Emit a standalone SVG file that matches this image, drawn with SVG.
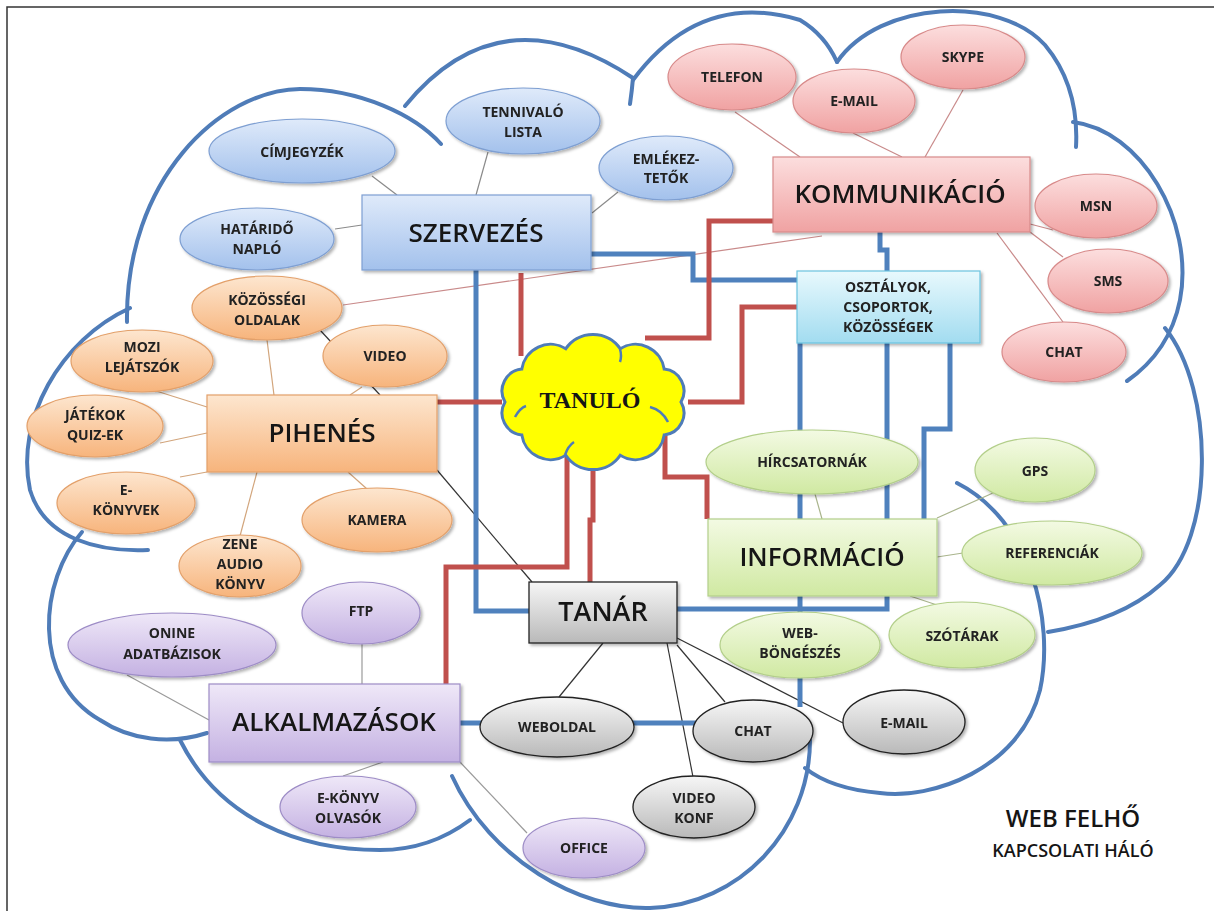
<svg xmlns="http://www.w3.org/2000/svg" width="1214" height="911" viewBox="0 0 1214 911">
<defs>
<linearGradient id="gBlue" x1="0" y1="0" x2="0" y2="1"><stop offset="0" stop-color="#dfeafa"/><stop offset="1" stop-color="#a3c1ec"/></linearGradient>
<linearGradient id="gPink" x1="0" y1="0" x2="0" y2="1"><stop offset="0" stop-color="#fcdede"/><stop offset="1" stop-color="#f0a2a2"/></linearGradient>
<linearGradient id="gOrange" x1="0" y1="0" x2="0" y2="1"><stop offset="0" stop-color="#fde6cf"/><stop offset="1" stop-color="#f7b47c"/></linearGradient>
<linearGradient id="gCyan" x1="0" y1="0" x2="0" y2="1"><stop offset="0" stop-color="#e8f9fd"/><stop offset="1" stop-color="#a2dcf0"/></linearGradient>
<linearGradient id="gGreen" x1="0" y1="0" x2="0" y2="1"><stop offset="0" stop-color="#f3fae3"/><stop offset="1" stop-color="#d0e9a2"/></linearGradient>
<linearGradient id="gGray" x1="0" y1="0" x2="0" y2="1"><stop offset="0" stop-color="#f6f6f6"/><stop offset="1" stop-color="#b9b9b9"/></linearGradient>
<linearGradient id="gPurple" x1="0" y1="0" x2="0" y2="1"><stop offset="0" stop-color="#efe8f8"/><stop offset="1" stop-color="#c4b1e2"/></linearGradient>
<filter id="sh" x="-10%" y="-10%" width="130%" height="140%"><feDropShadow dx="2" dy="2" stdDeviation="1.8" flood-color="#000" flood-opacity="0.3"/></filter>
</defs>
<style>
.arc{fill:none;stroke:#4f7cb8;stroke-width:4;stroke-linecap:round}
.thin{fill:none;stroke-width:1.2}
.tb{stroke:#8a8a8a}.tp{stroke:#c98a8a}.to{stroke:#d2a57c}.tg{stroke:#a9b48c}.tk{stroke:#333}.tu{stroke:#9a9a9a}
.red{fill:none;stroke:#c0504d;stroke-width:5}
.blue{fill:none;stroke:#4f81bd;stroke-width:5}
.n{filter:url(#sh)}
.blueN{fill:url(#gBlue);stroke:#7e9fd2;stroke-width:1.2}
.pinkN{fill:url(#gPink);stroke:#d88a8a;stroke-width:1.2}
.orN{fill:url(#gOrange);stroke:#e3a06a;stroke-width:1.2}
.cyN{fill:url(#gCyan);stroke:#6cc3df;stroke-width:1.2}
.grN{fill:url(#gGreen);stroke:#b3cf8a;stroke-width:1.2}
.gyN{fill:url(#gGray);stroke:#222;stroke-width:1.3}
.puN{fill:url(#gPurple);stroke:#9d8cc6;stroke-width:1.2}
text{font-family:"Open Sans","Liberation Sans",sans-serif;font-weight:600;fill:#151515;text-anchor:middle}
.big{font-size:26px}
.sm{font-size:14px;font-weight:700;fill:#222}
.tan{font-family:"Liberation Serif",serif;font-weight:bold;font-size:24px}
.curl{fill:none;stroke:#4f7cb8;stroke-width:2.5}
</style>
<rect width="1214" height="911" fill="#fff"/>
<path d="M7,911 V7 H1214" fill="none" stroke="#333" stroke-width="1.5"/>

<g id="cloud-outline">
<path class="arc" d="M127,322 C125,180 220,90 300,89 C360,89 415,115 441,144"/>
<path class="arc" d="M405,106 Q500,-10 633,78 Q632,90 630,104"/>
<path class="arc" d="M633,80 Q700,-10 800,20 Q825,35 837,62"/>
<path class="arc" d="M837,62 C880,0 1000,-5 1045,45 C1070,75 1078,110 1076,147"/>
<path class="arc" d="M1073,122 C1140,130 1195,220 1180,300 C1172,340 1150,365 1127,381"/>
<path class="arc" d="M1165,328 C1215,390 1215,540 1160,585 C1130,612 1090,625 1048,632"/>
<path class="arc" d="M957,483 C1030,520 1055,620 1040,690 C1020,770 930,800 880,793 C845,790 820,780 805,768"/>
<path class="arc" d="M452,776 C490,860 580,910 650,908 C740,905 810,830 810,740"/>
<path class="arc" d="M180,740 C220,820 300,850 380,850 C420,850 450,835 470,820"/>
<path class="arc" d="M82,532 C40,580 30,680 100,720 C130,740 170,745 207,733"/>
<path class="arc" d="M130,308 C60,340 15,420 30,490 C45,540 100,552 148,550"/>
</g>

<g id="connectors">
<line class="thin tb" x1="372" y1="176" x2="397" y2="195"/>
<line class="thin tb" x1="335" y1="229" x2="362" y2="225"/>
<line class="thin tb" x1="488" y1="152" x2="476" y2="195"/>
<line class="thin tb" x1="618" y1="192" x2="592" y2="213"/>
<line class="thin tp" x1="735" y1="112" x2="800" y2="157"/>
<line class="thin tp" x1="853" y1="133" x2="902" y2="157"/>
<line class="thin tp" x1="963" y1="90" x2="925" y2="157"/>
<line class="thin tp" x1="1030" y1="224" x2="1053" y2="230"/>
<line class="thin tp" x1="1030" y1="232" x2="1063" y2="257"/>
<line class="thin tp" x1="997" y1="233" x2="1063" y2="322"/>
<line class="thin tp" x1="343" y1="305" x2="822" y2="236"/>
<line class="thin tk" x1="320" y1="330" x2="380" y2="395"/>
<line class="thin to" x1="267" y1="340" x2="274" y2="395"/>
<line class="thin to" x1="362" y1="387" x2="350" y2="395"/>
<line class="thin to" x1="153" y1="390" x2="207" y2="407"/>
<line class="thin to" x1="160" y1="443" x2="207" y2="433"/>
<line class="thin to" x1="180" y1="477" x2="207" y2="472"/>
<line class="thin to" x1="240" y1="536" x2="257" y2="472"/>
<line class="thin to" x1="367" y1="489" x2="348" y2="472"/>
<line class="thin tk" x1="437" y1="470" x2="532" y2="582"/>
<line class="thin tg" x1="815" y1="494" x2="822" y2="519"/>
<line class="thin tg" x1="937" y1="518" x2="993" y2="493"/>
<line class="thin tg" x1="937" y1="557" x2="963" y2="553"/>
<line class="thin tg" x1="910" y1="596" x2="937" y2="605"/>
<line class="thin tk" x1="603" y1="643" x2="559" y2="697"/>
<line class="thin tk" x1="667" y1="643" x2="693" y2="777"/>
<line class="thin tk" x1="677" y1="645" x2="725" y2="702"/>
<line class="thin tk" x1="677" y1="638" x2="843" y2="723"/>
<line class="thin tu" x1="362" y1="643" x2="362" y2="684"/>
<line class="thin tu" x1="127" y1="675" x2="209" y2="720"/>
<line class="thin tu" x1="343" y1="776" x2="383" y2="762"/>
<line class="thin tu" x1="460" y1="762" x2="527" y2="833"/>
<path class="blue" d="M476,270 V611 H530"/>
<path class="blue" d="M591,254 H693 V280 H797"/>
<path class="blue" d="M880,232 V250 H887 V271"/>
<path class="blue" d="M800,343 V707"/>
<path class="blue" d="M887,343 V609 H677"/>
<path class="blue" d="M950,343 V429 H924 V519"/>
<path class="blue" d="M460,723 H697"/>
<path class="red" d="M437,402 H502"/>
<path class="red" d="M521,273 V356"/>
<path class="red" d="M773,221 H709 V338 H645"/>
<path class="red" d="M797,307 H742 V402 H688"/>
<path class="red" d="M665,430 V477 H707 V519"/>
<path class="red" d="M593,466 V520 H590 V583"/>
<path class="red" d="M567,455 V567 H446 V684"/>
</g>

<g id="szervezes" class="n"><rect class="blueN" x="362" y="195" width="229" height="75"/><text class="big" x="476" y="242">SZERVEZÉS</text></g>
<g id="cimjegyzek" class="n"><ellipse class="blueN" cx="302" cy="151" rx="93" ry="32"/><text class="sm" x="302" y="157">CÍMJEGYZÉK</text></g>
<g id="hatarido" class="n"><ellipse class="blueN" cx="257" cy="239" rx="77" ry="31"/><text class="sm" x="257" y="234">HATÁRIDŐ</text><text class="sm" x="257" y="254">NAPLÓ</text></g>
<g id="tennivalo" class="n"><ellipse class="blueN" cx="523" cy="121" rx="77" ry="33"/><text class="sm" x="523" y="117">TENNIVALÓ</text><text class="sm" x="523" y="137">LISTA</text></g>
<g id="emlekezteto" class="n"><ellipse class="blueN" cx="666" cy="168" rx="67" ry="32"/><text class="sm" x="666" y="164">EMLÉKEZ-</text><text class="sm" x="666" y="183">TETŐK</text></g>

<g id="kommunikacio" class="n"><rect class="pinkN" x="773" y="157" width="257" height="75"/><text class="big" x="900" y="203">KOMMUNIKÁCIÓ</text></g>
<g id="telefon" class="n"><ellipse class="pinkN" cx="732" cy="77" rx="64" ry="33"/><text class="sm" x="732" y="82">TELEFON</text></g>
<g id="email1" class="n"><ellipse class="pinkN" cx="854" cy="101" rx="61" ry="32"/><text class="sm" x="854" y="106">E-MAIL</text></g>
<g id="skype" class="n"><ellipse class="pinkN" cx="963" cy="57" rx="62" ry="32"/><text class="sm" x="963" y="62">SKYPE</text></g>
<g id="msn" class="n"><ellipse class="pinkN" cx="1096" cy="206" rx="61" ry="32"/><text class="sm" x="1096" y="211">MSN</text></g>
<g id="sms" class="n"><ellipse class="pinkN" cx="1108" cy="281" rx="60" ry="32"/><text class="sm" x="1108" y="286">SMS</text></g>
<g id="chat1" class="n"><ellipse class="pinkN" cx="1064" cy="352" rx="62" ry="30"/><text class="sm" x="1064" y="357">CHAT</text></g>

<g id="osztalyok" class="n"><rect class="cyN" x="797" y="271" width="183" height="72"/><text class="sm" x="888" y="292">OSZTÁLYOK,</text><text class="sm" x="888" y="312">CSOPORTOK,</text><text class="sm" x="888" y="332">KÖZÖSSÉGEK</text></g>

<g id="tanulo"><path d="M681,402 A22,22 0 0 1 664.2,434.9 A29,29 0 0 1 620.2,455.3 A33,33 0 0 1 565.8,455.3 A29,29 0 0 1 521.8,434.9 A22,22 0 0 1 505,402 A22,22 0 0 1 521.8,369.1 A29,29 0 0 1 565.8,348.7 A33,33 0 0 1 620.2,348.7 A29,29 0 0 1 664.2,369.1 A22,22 0 0 1 681,402 Z" fill="#ffff00" stroke="#4f7cb8" stroke-width="3"/>
<path class="curl" d="M650,407 Q662,410 668,422"/>
<path class="curl" d="M515,417 Q520,408 526,406"/>
<path class="curl" d="M565,455 Q568,446 574,442"/>
<path class="curl" d="M620,349 Q622,356 620,362"/>
<text class="tan" x="590" y="408">TANULÓ</text></g>

<g id="pihenes" class="n"><rect class="orN" x="207" y="395" width="230" height="77"/><text class="big" x="322" y="442">PIHENÉS</text></g>
<g id="kozossegi" class="n"><ellipse class="orN" cx="267" cy="308" rx="75" ry="32"/><text class="sm" x="267" y="305">KÖZÖSSÉGI</text><text class="sm" x="267" y="325">OLDALAK</text></g>
<g id="video" class="n"><ellipse class="orN" cx="385" cy="356" rx="62" ry="31"/><text class="sm" x="385" y="361">VIDEO</text></g>
<g id="mozi" class="n"><ellipse class="orN" cx="142" cy="361" rx="71" ry="31"/><text class="sm" x="142" y="352">MOZI</text><text class="sm" x="142" y="372">LEJÁTSZÓK</text></g>
<g id="jatekok" class="n"><ellipse class="orN" cx="95" cy="426" rx="68" ry="31"/><text class="sm" x="95" y="420">JÁTÉKOK</text><text class="sm" x="95" y="440">QUIZ-EK</text></g>
<g id="ekonyvek" class="n"><ellipse class="orN" cx="126" cy="503" rx="69" ry="31"/><text class="sm" x="126" y="495">E-</text><text class="sm" x="126" y="515">KÖNYVEK</text></g>
<g id="kamera" class="n"><ellipse class="orN" cx="377" cy="520" rx="75" ry="32"/><text class="sm" x="377" y="525">KAMERA</text></g>
<g id="zene" class="n"><ellipse class="orN" cx="240" cy="566" rx="61" ry="31"/><text class="sm" x="240" y="549">ZENE</text><text class="sm" x="240" y="569">AUDIO</text><text class="sm" x="240" y="589">KÖNYV</text></g>

<g id="informacio" class="n"><rect class="grN" x="708" y="519" width="229" height="77"/><text class="big" x="822" y="566">INFORMÁCIÓ</text></g>
<g id="hircsatornak" class="n"><ellipse class="grN" cx="812" cy="462" rx="106" ry="32"/><text class="sm" x="812" y="467">HÍRCSATORNÁK</text></g>
<g id="gps" class="n"><ellipse class="grN" cx="1035" cy="470" rx="60" ry="32"/><text class="sm" x="1035" y="476">GPS</text></g>
<g id="referenciak" class="n"><ellipse class="grN" cx="1052" cy="553" rx="90" ry="32"/><text class="sm" x="1052" y="558">REFERENCIÁK</text></g>
<g id="szotarak" class="n"><ellipse class="grN" cx="962" cy="635" rx="73" ry="33"/><text class="sm" x="962" y="641">SZÓTÁRAK</text></g>
<g id="webbongeszes" class="n"><ellipse class="grN" cx="800" cy="645" rx="80" ry="33"/><text class="sm" x="800" y="638">WEB-</text><text class="sm" x="800" y="658">BÖNGÉSZÉS</text></g>

<g id="tanar" class="n"><rect class="gyN" x="529" y="582" width="148" height="61"/><text class="big" x="603" y="621" style="font-size:27px">TANÁR</text></g>
<g id="weboldal" class="n"><ellipse class="gyN" cx="557" cy="727" rx="77" ry="30"/><text class="sm" x="557" y="732">WEBOLDAL</text></g>
<g id="chat2" class="n"><ellipse class="gyN" cx="753" cy="731" rx="60" ry="31"/><text class="sm" x="753" y="736">CHAT</text></g>
<g id="videokonf" class="n"><ellipse class="gyN" cx="694" cy="807" rx="61" ry="31"/><text class="sm" x="694" y="803">VIDEO</text><text class="sm" x="694" y="823">KONF</text></g>
<g id="email2" class="n"><ellipse class="gyN" cx="904" cy="722" rx="61" ry="32"/><text class="sm" x="904" y="728">E-MAIL</text></g>

<g id="alkalmazasok" class="n"><rect class="puN" x="209" y="684" width="251" height="78"/><text class="big" x="334" y="731">ALKALMAZÁSOK</text></g>
<g id="ftp" class="n"><ellipse class="puN" cx="361" cy="613" rx="59" ry="31"/><text class="sm" x="361" y="616">FTP</text></g>
<g id="onine" class="n"><ellipse class="puN" cx="172" cy="645" rx="104" ry="32"/><text class="sm" x="172" y="638">ONINE</text><text class="sm" x="172" y="659">ADATBÁZISOK</text></g>
<g id="ekonyvolvasok" class="n"><ellipse class="puN" cx="348" cy="807" rx="68" ry="31"/><text class="sm" x="348" y="803">E-KÖNYV</text><text class="sm" x="348" y="823">OLVASÓK</text></g>
<g id="office" class="n"><ellipse class="puN" cx="584" cy="848" rx="61" ry="30"/><text class="sm" x="584" y="853">OFFICE</text></g>

<g id="title"><text x="1073" y="827" style="font-size:24px">WEB FELHŐ</text><text x="1073" y="857" style="font-size:18px">KAPCSOLATI HÁLÓ</text></g>
</svg>
